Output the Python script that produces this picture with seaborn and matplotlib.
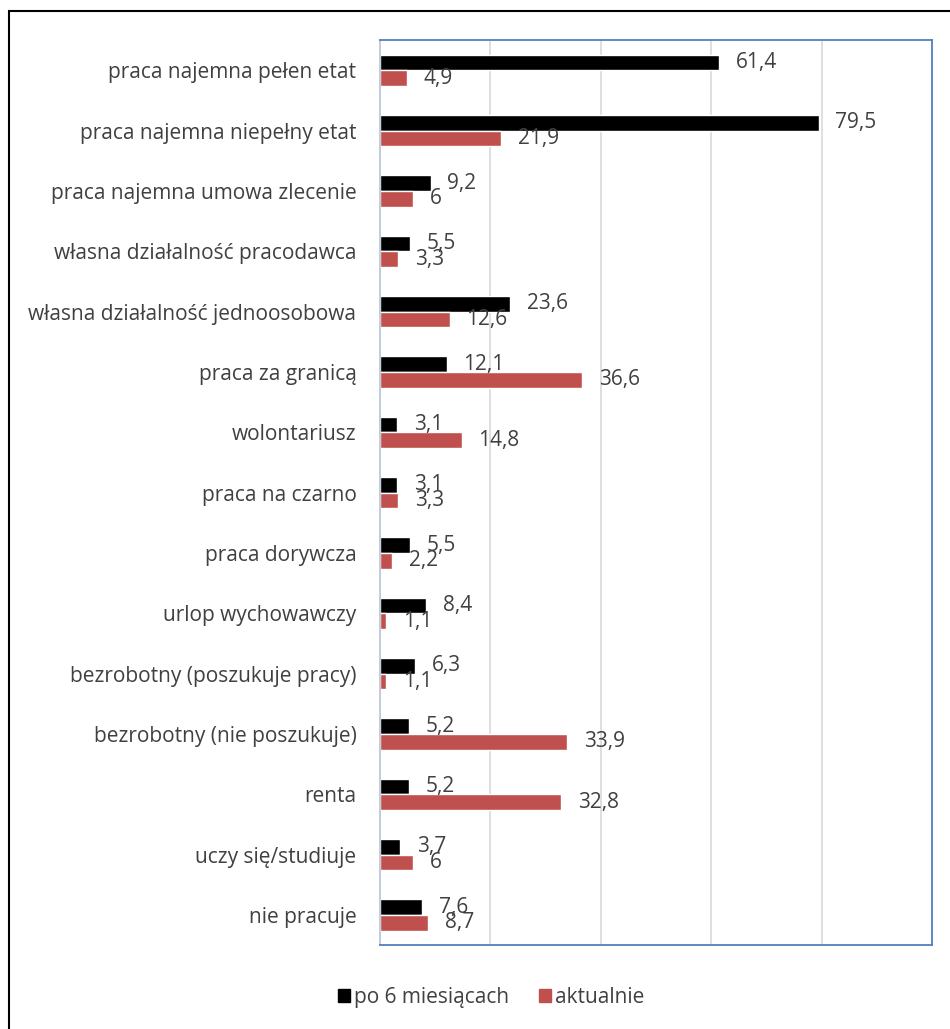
import matplotlib
matplotlib.use("Agg")
import matplotlib.pyplot as plt
import seaborn as sns
import pandas as pd
from matplotlib.patches import Rectangle, Patch

categories = [
    "praca najemna pełen etat",
    "praca najemna niepełny etat",
    "praca najemna umowa zlecenie",
    "własna działalność pracodawca",
    "własna działalność jednoosobowa",
    "praca za granicą",
    "wolontariusz",
    "praca na czarno",
    "praca dorywcza",
    "urlop wychowawczy",
    "bezrobotny (poszukuje pracy)",
    "bezrobotny (nie poszukuje)",
    "renta",
    "uczy się/studiuje",
    "nie pracuje",
]
po_6 = [61.4, 79.5, 9.2, 5.5, 23.6, 12.1, 3.1, 3.1, 5.5, 8.4, 6.3, 5.2, 5.2, 3.7, 7.6]
aktualnie = [4.9, 21.9, 6, 3.3, 12.6, 36.6, 14.8, 3.3, 2.2, 1.1, 1.1, 33.9, 32.8, 6, 8.7]
series = ["po 6 miesiącach", "aktualnie"]
colors = ["#000000", "#C0504D"]

df = pd.DataFrame({
    "kategoria": categories * 2,
    "seria": [series[0]] * len(categories) + [series[1]] * len(categories),
    "wartosc": po_6 + aktualnie,
})

sns.set_style("white")
plt.rcParams["font.family"] = ["Open Sans", "DejaVu Sans"]

fig = plt.figure(figsize=(9.5, 10.29), dpi=100)
ax = fig.add_axes([0.4, 0.0816, 0.581, 0.8795])

sns.barplot(data=df, y="kategoria", x="wartosc", hue="seria", order=categories,
            hue_order=series, palette=colors, orient="h", width=0.52, ax=ax,
            legend=False, saturation=1, errorbar=None)

for cont in ax.containers:
    labels = [f"{v:g}".replace(".", ",") for v in cont.datavalues]
    ax.bar_label(cont, labels=labels, padding=12, fontsize=15, color="#404040")

ax.set_xlim(0, 100)
ax.set_ylim(len(categories) - 0.5, -0.5)
ax.set_xticks([0, 20, 40, 60, 80, 100])
ax.set_xticklabels([])
ax.tick_params(axis="x", length=0)
ax.tick_params(axis="y", length=0, labelsize=15, labelcolor="#404040", pad=17)
ax.xaxis.grid(True, color="#D9D9D9", linewidth=1.2)
ax.set_axisbelow(True)
ax.set_xlabel("")
ax.set_ylabel("")
for s in ["top", "right", "bottom"]:
    ax.spines[s].set_color("#4F81BD")
    ax.spines[s].set_linewidth(1.3)
    ax.spines[s].set_visible(True)
ax.spines["left"].set_color("#BCC8DA")
ax.spines["left"].set_linewidth(1.3)

handles = [Patch(facecolor=c, edgecolor=c) for c in colors]
fig.legend(handles, series, loc="center", bbox_to_anchor=(0.517, 0.031), ncol=2,
           frameon=False, fontsize=15, labelcolor="#404040", handlelength=0.58,
           handleheight=0.58, handletextpad=0.2, columnspacing=1.45)

fig.patches.append(Rectangle((9 / 950, -0.05), 1.2, 1 - 11 / 1029 + 0.05,
                             transform=fig.transFigure, fill=False,
                             edgecolor="black", linewidth=1.5))

fig.savefig("out.png", dpi=100)
